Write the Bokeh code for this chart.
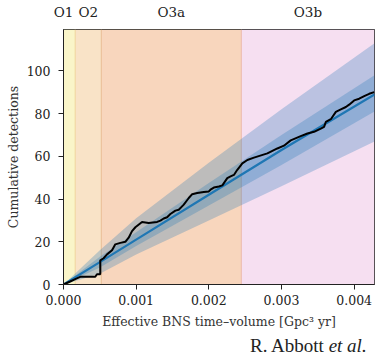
from bokeh.plotting import figure
from bokeh.models import (Range1d, LinearAxis, FixedTicker, CustomJSTickFormatter,
                          BoxAnnotation, Span, Div, PrintfTickFormatter)
from bokeh.layouts import column
from bokeh.embed import file_html
from bokeh.resources import INLINE

# ---- data -------------------------------------------------------------
run_names = ["O1", "O2", "O3a", "O3b"]
run_edges = [0.0, 0.000161, 0.00052, 0.002447, 0.00428]
run_colors = ["#faf5c9", "#f9e3c7", "#f8d6bd", "#f6dff1"]
edge_colors = ["#f0d49a", "#e9bc92", "#ebb8a8"]

x_ticks = [0.0, 0.001, 0.002, 0.003, 0.004]
y_ticks = [0, 20, 40, 60, 80, 100]

# cumulative detections vs effective BNS time-volume
vt = [0.0, 0.0000924, 0.000161, 0.00023, 0.000437, 0.000461, 0.000506, 0.000506,
      0.000552, 0.000599, 0.000668, 0.000713, 0.000782, 0.000851, 0.000897,
      0.000943, 0.000989, 0.001081, 0.001172, 0.001288, 0.001334, 0.001379,
      0.001426, 0.001471, 0.00154, 0.001586, 0.001655, 0.001724, 0.001771,
      0.00184, 0.001931, 0.002, 0.002023, 0.002069, 0.002138, 0.002186,
      0.002254, 0.002299, 0.002345, 0.002392, 0.002461, 0.00253, 0.002621,
      0.002806, 0.002943, 0.003034, 0.003127, 0.003265, 0.003357, 0.003448,
      0.003541, 0.003586, 0.00361, 0.003679, 0.003748, 0.003817, 0.003886,
      0.003931, 0.004, 0.004069, 0.004138, 0.004207, 0.004276]
detections = [0, 1.4, 2.5, 3.6, 3.6, 4.8, 4.8, 11.3,
              12.3, 14.1, 16.0, 18.8, 19.5, 20.0, 21.9,
              25.0, 26.8, 29.3, 28.8, 29.3, 29.9, 30.9,
              31.5, 33.0, 34.6, 35.0, 37.4, 40.5, 42.3,
              42.8, 43.3, 43.6, 44.4, 45.4, 45.9, 46.4,
              49.8, 50.6, 51.3, 53.7, 56.7, 58.3, 59.4,
              61.4, 63.7, 65.0, 67.5, 69.5, 70.7, 71.5,
              73.0, 73.8, 76.1, 77.4, 80.8, 82.0, 83.1,
              84.2, 86.2, 87.0, 88.2, 89.3, 90.1]

# expected detections (median) and credible bands
band_vt = [0.0, 0.0005, 0.001, 0.002, 0.003, 0.00428]
median = [0, 10.5, 21, 42, 63, 89]
outer_low = [0, 5, 14, 30, 46, 67]
outer_high = [0, 16, 31, 57, 82, 113]
inner_low = [0, 8, 18, 37, 56, 81]
inner_high = [0, 13, 24.5, 47.5, 70, 98]

# ---- figure -----------------------------------------------------------
FONT = "DejaVu Serif"

p = figure(width=386, height=335, output_backend="svg", toolbar_location=None,
           x_range=Range1d(run_edges[0], run_edges[-1]),
           y_range=Range1d(0, 119.4),
           min_border_left=63, min_border_right=12,
           min_border_top=27, min_border_bottom=51)
p.background_fill_color = "white"
p.border_fill_color = "white"
p.outline_line_color = "#222222"
p.outline_line_width = 1
p.grid.visible = False

# observing-run shading
for i, name in enumerate(run_names):
    p.add_layout(BoxAnnotation(left=run_edges[i], right=run_edges[i + 1],
                               fill_color=run_colors[i], fill_alpha=1.0,
                               line_color=None, level="underlay"))
for j, c in enumerate(edge_colors):
    p.add_layout(Span(location=run_edges[j + 1], dimension="height",
                      line_color=c, line_width=1, level="underlay"))

# bands
p.varea(x=band_vt, y1=outer_low, y2=outer_high, fill_color="#1f77b4", fill_alpha=0.27)
p.varea(x=band_vt, y1=inner_low, y2=inner_high, fill_color="#1f77b4", fill_alpha=0.27)
p.line(band_vt, median, line_color="#1f77b4", line_width=2.2)
p.line(vt, detections, line_color="black", line_width=2)

# axes
for ax in (p.xaxis[0], p.yaxis[0]):
    ax.major_label_text_font = FONT
    ax.major_label_text_font_size = "12.5px"
    ax.major_label_text_color = "#222222"
    ax.axis_label_text_font = FONT
    ax.axis_label_text_font_size = "12.5px"
    ax.axis_label_text_font_style = "normal"
    ax.axis_label_text_color = "#333333"
    ax.minor_tick_line_color = None
    ax.major_tick_in = 0
    ax.major_tick_out = 5
    ax.major_tick_line_color = "#222222"
    ax.axis_line_color = "#222222"

p.xaxis[0].ticker = FixedTicker(ticks=x_ticks)
p.xaxis[0].formatter = PrintfTickFormatter(format="%.3f")
p.xaxis[0].axis_label = "Effective BNS time\u2013volume [Gpc\u00b3 yr]"
p.xaxis[0].major_label_standoff = 5
p.xaxis[0].axis_label_standoff = 6

p.yaxis[0].ticker = FixedTicker(ticks=y_ticks)
p.yaxis[0].axis_label = "Cumulative detections"
p.yaxis[0].major_label_standoff = 8
p.yaxis[0].axis_label_standoff = 3

label_x = [run_edges[0]] + [(run_edges[i] + run_edges[i + 1]) / 2 for i in range(1, len(run_names))]
top = LinearAxis(ticker=FixedTicker(ticks=label_x),
                 formatter=CustomJSTickFormatter(args=dict(names=run_names),
                                                 code="return names[index];"),
                 major_tick_line_color=None, minor_tick_line_color=None,
                 axis_line_color=None, major_label_standoff=4,
                 major_label_text_font=FONT, major_label_text_font_size="13.5px",
                 major_label_text_color="#222222")
p.add_layout(top, "above")

cite = Div(text='<div style="font-family:\'Liberation Serif\';font-size:19px;'
                'line-height:21px;margin:0;padding-left:250px;white-space:nowrap;color:#222">'
                'R. Abbott <i>et al.</i></div>',
           width=386, height=23, margin=0,
           styles={"overflow": "hidden", "white-space": "nowrap"})

layout = column(p, cite, spacing=0)
open("out.html", "w").write(file_html(layout, INLINE))
